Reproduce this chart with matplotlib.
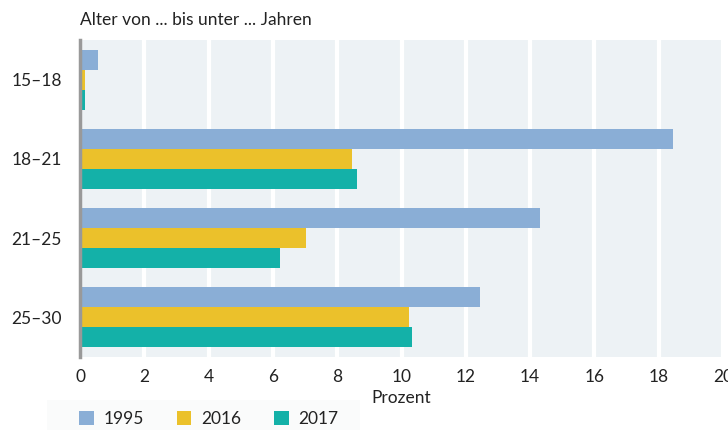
import matplotlib
matplotlib.use('Agg')
import matplotlib.pyplot as plt
from matplotlib.patches import Rectangle
import numpy as np

plt.rcParams['font.family'] = ['Lato', 'DejaVu Sans']

ageGroups = ['15–18', '18–21', '21–25', '25–30']
years = ['1995', '2016', '2017']
values1995 = [0.55, 18.43, 14.32, 12.43]
values2016 = [0.14, 8.45, 7.04, 10.22]
values2017 = [0.14, 8.63, 6.23, 10.34]
colors = ['#8aaed6', '#ebc12b', '#14b1a8']

fig = plt.figure(figsize=(7.28, 4.30), dpi=100)
ax = fig.add_axes([80/728, 1-357/430, 643/728, 317/430])
ax.set_facecolor('#edf2f5')

# faint legend band
fig.patches.append(Rectangle((47/728, 0), 313/728, 30/430, transform=fig.transFigure,
                             facecolor='#fafbfb', edgecolor='none', zorder=0))

y = np.arange(len(ageGroups))
barHeight = 0.253
for i, (vals, col) in enumerate(zip([values1995, values2016, values2017], colors)):
    ax.barh(y + (i-1)*barHeight, vals, height=barHeight, color=col, label=years[i], zorder=3)

ax.set_xlim(0, 20)
ax.set_ylim(3.5, -0.5)
ax.set_xticks(np.arange(0, 21, 2))
ax.set_yticks(y)
ax.set_yticklabels(ageGroups)
ax.tick_params(axis='both', length=0, labelsize=12.5, colors='#222222')
ax.tick_params(axis='y', pad=13)
ax.tick_params(axis='x', pad=9)
ax.grid(axis='x', color='white', linewidth=3, zorder=1)
ax.set_axisbelow(True)
for s in ['top', 'right', 'bottom']:
    ax.spines[s].set_visible(False)
ax.spines['left'].set_color('#999999')
ax.spines['left'].set_linewidth(2.5)
ax.spines['left'].set_zorder(4)

ax.set_xlabel('Prozent', fontsize=12.5, color='#222222', labelpad=3)
fig.text(80/728, 1-20/430, 'Alter von ... bis unter ... Jahren', fontsize=12.5,
         color='#222222', va='center', ha='left')

fig.legend(loc='center left', bbox_to_anchor=(79/728, 11/430), ncol=3, frameon=False,
           fontsize=12.5, handlelength=0.85, handleheight=0.85, columnspacing=1.9,
           handletextpad=0.55, labelcolor='#222222', borderpad=0, borderaxespad=0)

fig.savefig('out.png', dpi=100)
